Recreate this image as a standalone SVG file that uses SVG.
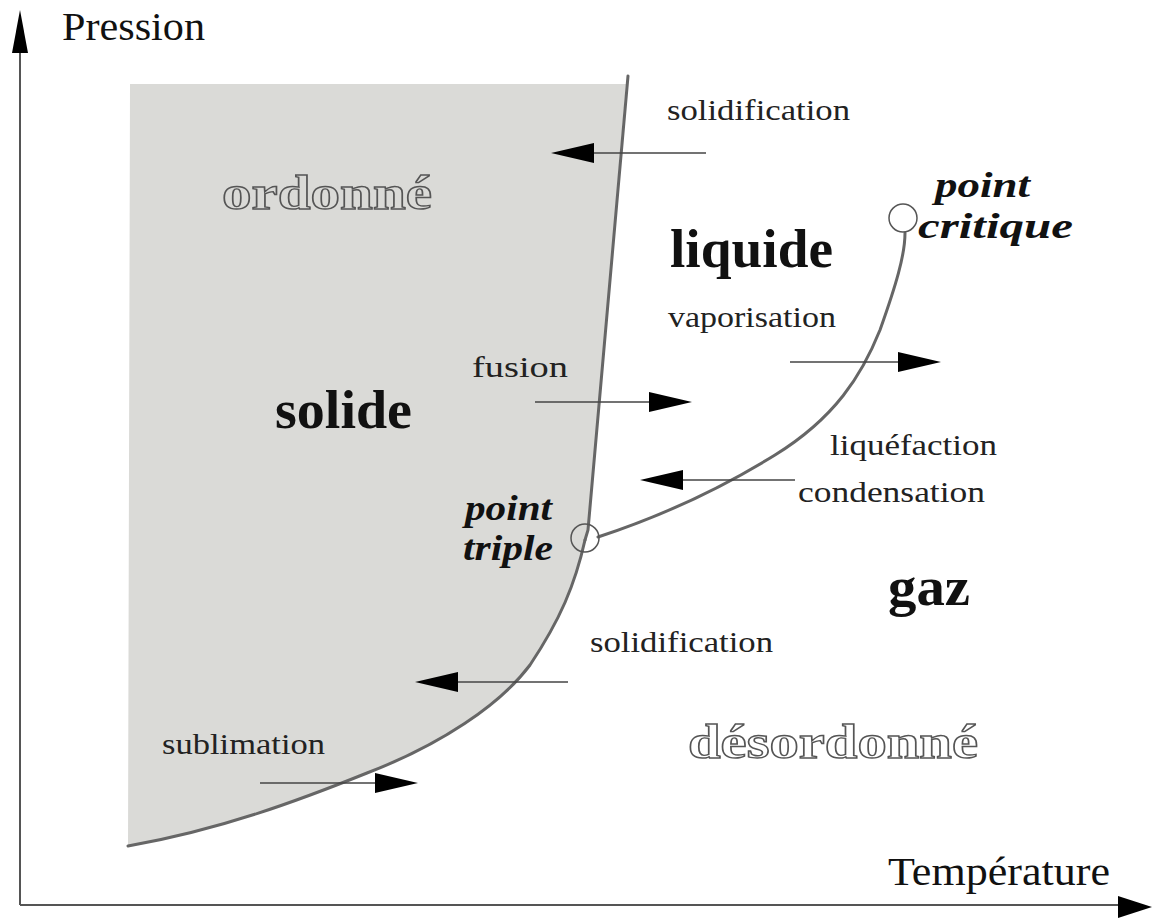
<svg xmlns="http://www.w3.org/2000/svg" width="1152" height="922" viewBox="0 0 1152 922">
<style>
.lbl{font-family:"Liberation Serif","Times New Roman",serif;font-size:30px;fill:#222}
.big{font-family:"Liberation Serif","Times New Roman",serif;font-size:54px;font-weight:bold;fill:#111}
.pt{font-family:"Liberation Serif","Times New Roman",serif;font-size:36px;font-weight:bold;font-style:italic;fill:#111}
.outl{font-family:"Liberation Serif","Times New Roman",serif;font-size:48px;font-weight:bold;fill:none;stroke:#555;stroke-width:1.4}
.axis{font-family:"Liberation Serif","Times New Roman",serif;font-size:40px;fill:#111}
.curve{fill:none;stroke:#666;stroke-width:3;stroke-linecap:round}
.arr{stroke:#444;stroke-width:1.6;fill:none}
.head{fill:#000}
</style>
<rect width="1152" height="922" fill="#fff"/>
<g id="solid-region">
<path d="M130,84 L626,84 L588,530 L585,540 C575,585 560,620 530,665 C500,705 440,745 367,773 C300,800 220,830 128,846 Z" fill="#dadad7"/>
</g>
<g id="axes">
<line x1="20" y1="905" x2="20" y2="45" stroke="#555" stroke-width="2"/>
<polygon class="head" points="20,10 28,53 12,53"/>
<line x1="20" y1="905" x2="1125" y2="905" stroke="#555" stroke-width="2"/>
<polygon class="head" points="1152,907 1118,896 1118,918"/>
<text id="pression" class="axis" x="62" y="40" textLength="143" lengthAdjust="spacingAndGlyphs">Pression</text>
<text id="temperature" class="axis" x="888" y="885" font-size="38" textLength="222" lengthAdjust="spacingAndGlyphs">Température</text>
</g>
<g id="curves">
<path id="fusion-curve" class="curve" d="M628,76 L588,530 L585,540"/>
<path id="sublimation-curve" class="curve" d="M585,540 C575,585 560,620 530,665 C500,705 440,745 367,773 C300,800 220,830 128,846"/>
<path id="vaporisation-curve" class="curve" d="M598,537 C650,520 715,492 775,455 C835,418 862,375 880,330 C896,285 905,255 905,233"/>
</g>
<g id="point-triple">
<circle cx="585" cy="538" r="14" fill="none" stroke="#555" stroke-width="1.5"/>
<text class="pt" x="465" y="520" textLength="87" lengthAdjust="spacingAndGlyphs">point</text>
<text class="pt" x="463" y="560" textLength="90" lengthAdjust="spacingAndGlyphs">triple</text>
</g>
<g id="point-critique">
<circle cx="903" cy="218" r="14" fill="#fff" stroke="#555" stroke-width="1.5"/>
<text class="pt" x="935" y="197" textLength="95" lengthAdjust="spacingAndGlyphs">point</text>
<text class="pt" x="918" y="238" textLength="155" lengthAdjust="spacingAndGlyphs">critique</text>
</g>
<g id="regions">
<text id="ordonne" class="outl" x="222" y="209" textLength="210" lengthAdjust="spacingAndGlyphs">ordonné</text>
<text id="liquide" class="big" x="670" y="267" font-size="52" textLength="163" lengthAdjust="spacingAndGlyphs">liquide</text>
<text id="solide" class="big" x="275" y="428" textLength="137" lengthAdjust="spacingAndGlyphs">solide</text>
<text id="gaz" class="big" x="888" y="605" textLength="82" lengthAdjust="spacingAndGlyphs">gaz</text>
<text id="desordonne" class="outl" x="688" y="758" textLength="290" lengthAdjust="spacingAndGlyphs">désordonné</text>
</g>
<g id="connectors">
<g id="arrow-solidification-top">
<line class="arr" x1="706" y1="153" x2="590" y2="153"/>
<polygon class="head" points="551,153 594,143 594,163"/>
</g>
<g id="arrow-vaporisation">
<line class="arr" x1="790" y1="362" x2="900" y2="362"/>
<polygon class="head" points="941,362 898,352 898,372"/>
</g>
<g id="arrow-fusion">
<line class="arr" x1="535" y1="402" x2="650" y2="402"/>
<polygon class="head" points="692,402 649,392 649,412"/>
</g>
<g id="arrow-condensation">
<line class="arr" x1="795" y1="480" x2="680" y2="480"/>
<polygon class="head" points="640,480 683,470 683,490"/>
</g>
<g id="arrow-solidification-low">
<line class="arr" x1="568" y1="682" x2="455" y2="682"/>
<polygon class="head" points="415,682 458,672 458,692"/>
</g>
<g id="arrow-sublimation">
<line class="arr" x1="260" y1="783" x2="375" y2="783"/>
<polygon class="head" points="418,783 375,773 375,793"/>
</g>
</g>
<g id="labels">
<text class="lbl" x="667" y="120" textLength="183" lengthAdjust="spacingAndGlyphs">solidification</text>
<text class="lbl" x="668" y="327" textLength="168" lengthAdjust="spacingAndGlyphs">vaporisation</text>
<text class="lbl" x="472" y="377" textLength="96" lengthAdjust="spacingAndGlyphs">fusion</text>
<text class="lbl" x="830" y="455" textLength="167" lengthAdjust="spacingAndGlyphs">liquéfaction</text>
<text class="lbl" x="798" y="502" textLength="187" lengthAdjust="spacingAndGlyphs">condensation</text>
<text class="lbl" x="590" y="652" textLength="183" lengthAdjust="spacingAndGlyphs">solidification</text>
<text class="lbl" x="162" y="754" textLength="163" lengthAdjust="spacingAndGlyphs">sublimation</text>
</g>
</svg>
